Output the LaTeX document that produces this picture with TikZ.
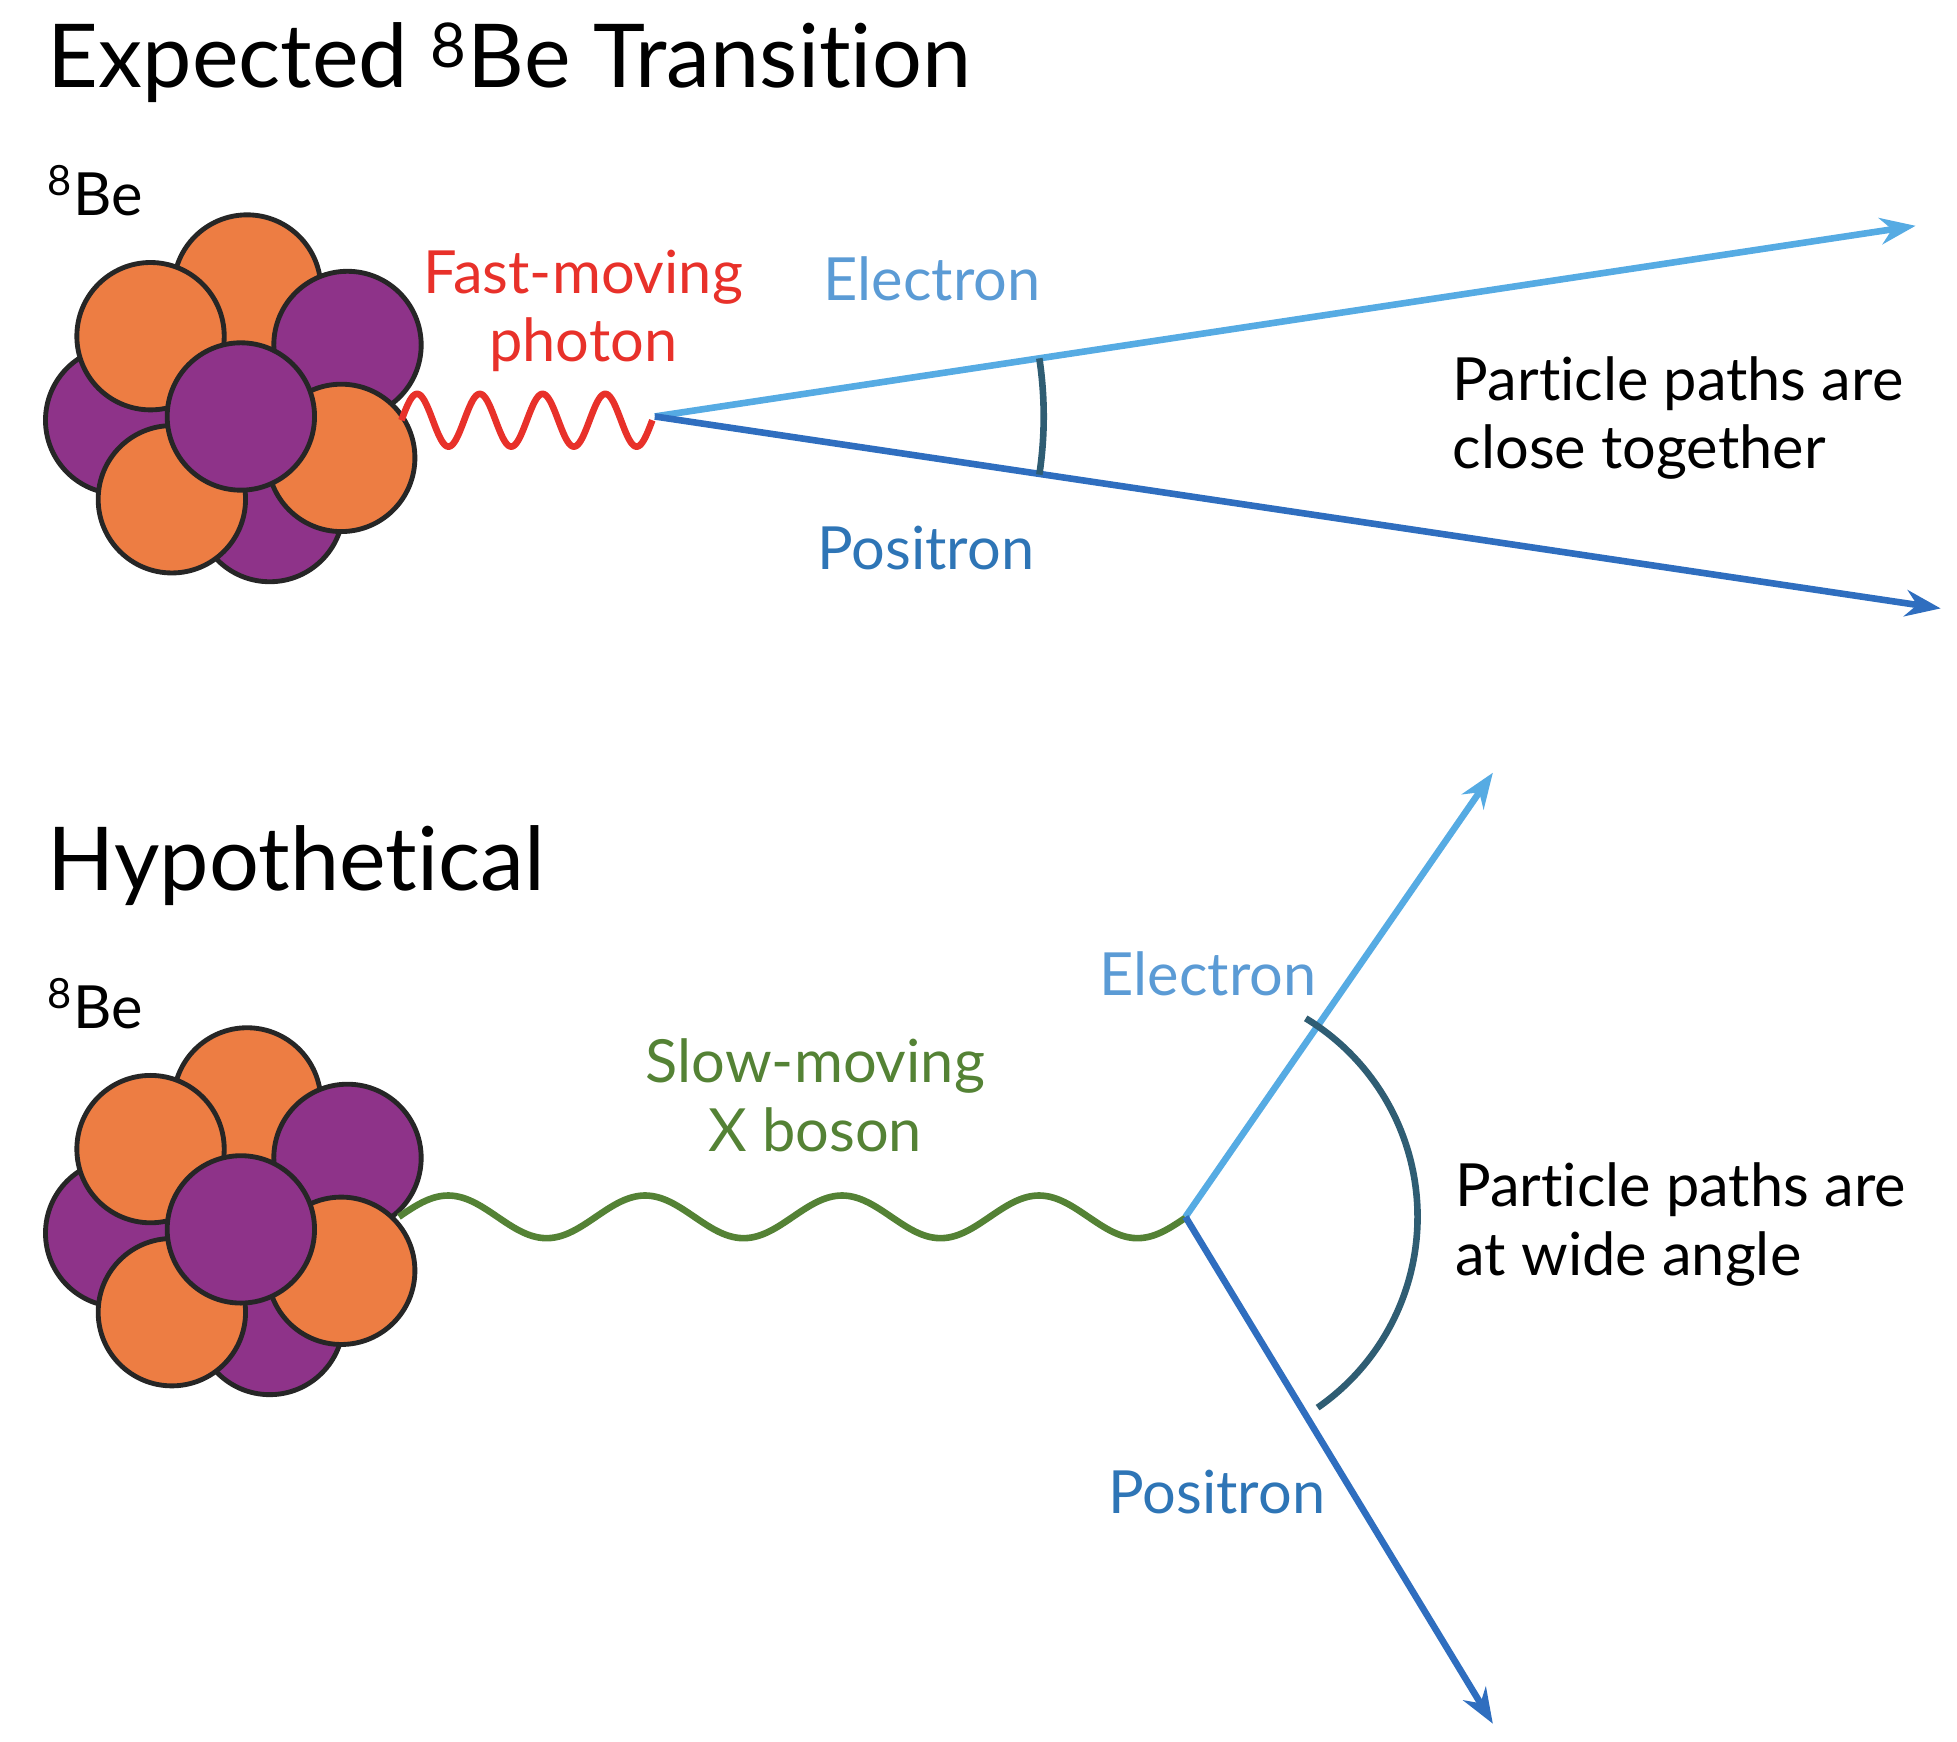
\documentclass[tikz,border=0pt]{standalone}
\usepackage{fontspec}
\setmainfont{Lato}[Ligatures={NoCommon,NoRare,NoDiscretionary}]
\usetikzlibrary{arrows.meta}
\definecolor{orng}{HTML}{ED7D43}
\definecolor{purp}{HTML}{8E3389}
\definecolor{elec}{HTML}{56ABE3}
\definecolor{posi}{HTML}{2F6EBF}
\definecolor{elab}{HTML}{5B9BD5}
\definecolor{plab}{HTML}{2E75B6}
\definecolor{phot}{HTML}{E8312A}
\definecolor{grn}{HTML}{548235}
\definecolor{arcc}{HTML}{2F5D73}
\begin{document}
\begin{tikzpicture}[x=0.02cm,y=-0.02cm,
  nuc/.style={draw=black!85,line width=2.2pt},
  ball/.style={circle,minimum size=2.35cm,inner sep=0pt,nuc},
  title/.style={anchor=base west,font=\fontsize{40}{46}\selectfont},
  lab/.style={font=\fontsize{27}{33}\selectfont},
  path/.style={line width=3pt,-{Stealth[length=16pt,width=12pt]}},
  anglearc/.style={arcc,line width=3pt}]
\useasboundingbox (0,0) rectangle (1560,1388);
\node[title] (t1) at (32,70) {Expected \textsuperscript{8}Be Transition};
\node[title] (t2) at (32,710) {Hypothetical};
\foreach \dy/\n in {0/a,648/b}{
  \begin{scope}[yshift=-\dy*0.02cm]
  \node[lab,anchor=base west] (be\n) at (32,172) {\textsuperscript{8}Be};
  \node[ball,fill=purp] at (95,335) {};
  \node[ball,fill=purp] at (215,405) {};
  \node[ball,fill=orng] at (197,230) {};
  \node[ball,fill=orng] at (120,268) {};
  \node[ball,fill=purp] at (277,275) {};
  \node[ball,fill=orng] at (272,365) {};
  \node[ball,fill=orng] at (137,398) {};
  \node[ball,fill=purp] (core\n) at (192,332) {};
  \end{scope}}
% top
\coordinate (v1) at (522,332);
\coordinate (e1) at (1527,180);
\coordinate (p1) at (1547,485);
\draw[phot,line width=3pt,domain=0:200,samples=200] plot ({320+\x},{335-21*sin(\x/50*360)});
\draw[path,elec] (v1) -- (e1);
\draw[path,posi] (v1) -- (p1);
\draw[anglearc] (v1) ++(-8.6:310) arc[start angle=-8.6,end angle=8.6,radius=310];
\node[lab,phot,align=center] (fm) at (465,248) {Fast-moving\\[-2pt]photon};
\node[lab,elab] (el1) at (743,222) {Electron};
\node[lab,plab] (po1) at (738,437) {Positron};
\node[lab,align=left,anchor=west] (pp1) at (1152,333) {Particle paths are\\[-2pt]close together};
% bottom
\coordinate (v2) at (945,970);
\coordinate (e2) at (1190,616);
\coordinate (p2) at (1190,1374);
\draw[grn,line width=3pt,domain=0:627,samples=300] plot ({318+\x},{970-17*sin(\x/157*360)});
\draw[path,elec] (v2) -- (e2);
\draw[path,posi] (v2) -- (p2);
\draw[anglearc] (v2) ++(55.3:185) arc[start angle=55.3,end angle=-58.8,radius=185];
\node[lab,grn,align=center] (xb) at (650,873) {Slow-moving\\[-2pt]X boson};
\node[lab,elab] (el2) at (963,776) {Electron};
\node[lab,plab] (po2) at (970,1189) {Positron};
\node[lab,align=left,anchor=west] (pp2) at (1154,976) {Particle paths are\\[-2pt]at wide angle};
\end{tikzpicture}
\end{document}
